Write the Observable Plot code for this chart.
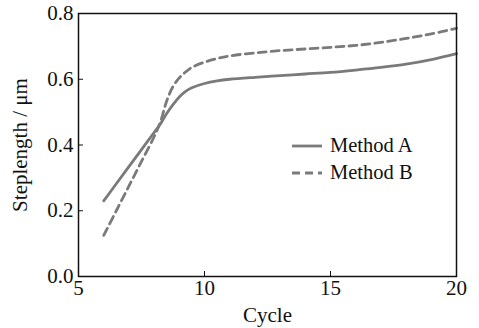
<!DOCTYPE html>
<html>
<head>
<meta charset="utf-8">
<script src="https://cdn.jsdelivr.net/npm/d3@7"></script>
<script src="https://cdn.jsdelivr.net/npm/@observablehq/plot@0.6"></script>
<style>
  html, body { margin: 0; padding: 0; background: #fff; }
  #wrap { position: relative; width: 479px; height: 328px; font-family: "Liberation Serif", "Times New Roman", serif; }
  #legend { position: absolute; left: 292px; top: 132px; font-size: 20.5px; color: #111; }
  #legend div { display: flex; align-items: center; height: 27px; }
  #legend svg { margin-right: 8px; }
</style>
</head>
<body>
<div id="wrap"><div id="legend"></div></div>
<script>
const cycles  = [6, 6.5, 7, 7.5, 8, 8.25, 8.5, 8.75, 9, 9.25, 9.5, 10, 10.5, 11, 12, 13, 14, 15, 16, 17, 18, 19, 20];
const methodA = [0.23, 0.282, 0.334, 0.386, 0.438, 0.464, 0.496, 0.523, 0.546, 0.563, 0.574, 0.587, 0.595, 0.6, 0.606, 0.611, 0.616, 0.621, 0.628, 0.636, 0.646, 0.66, 0.678];
const methodB = [0.125, 0.2, 0.275, 0.35, 0.425, 0.47, 0.534, 0.578, 0.604, 0.622, 0.636, 0.652, 0.663, 0.671, 0.68, 0.687, 0.692, 0.697, 0.703, 0.712, 0.724, 0.738, 0.755];
const seriesNames = ["Method A", "Method B"];
const xTicks = [5, 10, 15, 20];
const yTicks = [0, 0.2, 0.4, 0.6, 0.8];

const lineColor = "#7a7a7a";
const rows = [];
cycles.forEach((c, i) => {
  rows.push({cycle: c, value: methodA[i], series: seriesNames[0]});
  rows.push({cycle: c, value: methodB[i], series: seriesNames[1]});
});

const plot = Plot.plot({
  width: 479,
  height: 328,
  marginLeft: 78,
  marginRight: 23,
  marginTop: 13,
  marginBottom: 52,
  style: {fontFamily: '"Liberation Serif", "Times New Roman", serif', fontSize: "21px", background: "#fff", color: "#111"},
  x: {domain: [5, 20]},
  y: {domain: [0, 0.8]},
  marks: [
    Plot.axisX({ticks: xTicks, tickSize: -5, tickPadding: 9, tickFormat: d => String(d), label: "Cycle", labelAnchor: "center", labelArrow: "none", labelOffset: 45, fontSize: 21, stroke: "#111"}),
    Plot.axisY({ticks: yTicks, tickSize: -5, tickPadding: 10, tickFormat: d3.format(".1f"), label: "Steplength / μm", labelAnchor: "center", labelArrow: "none", labelOffset: 66, fontSize: 21, stroke: "#111"}),
    Plot.line(rows.filter(d => d.series === seriesNames[0]), {x: "cycle", y: "value", stroke: lineColor, strokeWidth: 2.8, curve: "catmull-rom"}),
    Plot.line(rows.filter(d => d.series === seriesNames[1]), {x: "cycle", y: "value", stroke: lineColor, strokeWidth: 2.8, strokeDasharray: "8,5", curve: "catmull-rom"}),
    Plot.frame({stroke: "#111", strokeWidth: 1.5})
  ]
});
document.getElementById("wrap").prepend(plot);

const legend = document.getElementById("legend");
seriesNames.forEach((name, i) => {
  const row = document.createElement("div");
  row.innerHTML = `<svg width="30" height="6"><line x1="0" y1="3" x2="30" y2="3" stroke="${lineColor}" stroke-width="2.8" ${i === 1 ? 'stroke-dasharray="8,5"' : ''}/></svg><span>${name}</span>`;
  legend.appendChild(row);
});
</script>
</body>
</html>
